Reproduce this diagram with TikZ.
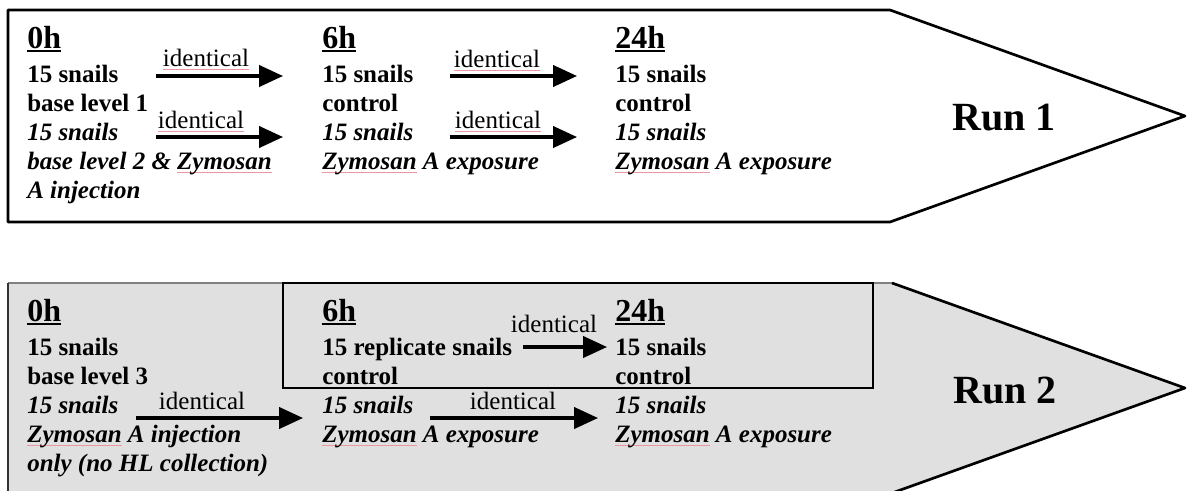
\documentclass[tikz,border=0pt]{standalone}
\usepackage{fontspec}
\setmainfont{Liberation Serif}
\usetikzlibrary{arrows.meta}
\definecolor{runfill}{HTML}{E0E0E0}
\definecolor{pinkline}{RGB}{236,150,160}
\definecolor{edgegray}{HTML}{808080}
\newcommand\pinkul[1]{\setbox0\hbox{#1}\rlap{\color{pinkline}\rule[-3pt]{\wd0}{1pt}}\box0\relax}
\newcommand\hdul[1]{\setbox0\hbox{#1}\rlap{\rule[-3.2pt]{\wd0}{1.6pt}}\box0\relax}
\tikzset{
  bl/.style={anchor=base west, inner sep=0pt, font=\fontsize{18.75pt}{22pt}\selectfont\bfseries},
  il/.style={anchor=base west, inner sep=0pt, font=\fontsize{18.75pt}{22pt}\selectfont\bfseries\itshape},
  hd/.style={anchor=base west, inner sep=0pt, font=\fontsize{24pt}{26pt}\selectfont\bfseries},
  lbl/.style={anchor=base, inner sep=0pt, font=\fontsize{18.75pt}{22pt}\selectfont},
  runlbl/.style={anchor=base, inner sep=0pt, font=\fontsize{30pt}{34pt}\selectfont\bfseries},
  arr/.style={line width=2.4pt, -{Triangle[length=18pt,width=16pt]}},
  outline/.style={line width=2pt, line join=round}
}
\begin{document}
\begin{tikzpicture}[x=0.75pt,y=-0.75pt]
\useasboundingbox (0,0) rectangle (1187,490);
\clip (0,0) rectangle (1187,490);
\fill[white] (0,0) rectangle (1187,490);

% ---------- Run 1 ----------
\draw[outline] (8,10) -- (890,10) -- (1185,116) -- (890,222) -- (8,222) -- cycle;
\node[runlbl] (run1) at (1004,130) {Run 1};

\node[hd] (r1h0) at (27,48) {\hdul{0h}};
\node[bl] (r1a1) at (27,82) {15 snails};
\node[bl] (r1a2) at (27,111) {base level 1};
\node[il] (r1a3) at (27,140) {15 snails};
\node[il] (r1a4) at (27,169) {base level 2 \& \pinkul{Zymosan}};
\node[il] (r1a5) at (27,198) {A injection};

\node[hd] (r1h6) at (322,48) {\hdul{6h}};
\node[bl] (r1b1) at (322,82) {15 snails};
\node[bl] (r1b2) at (322,111) {control};
\node[il] (r1b3) at (322,140) {15 snails};
\node[il] (r1b4) at (322,169) {\pinkul{Zymosan} A exposure};

\node[hd] (r1h24) at (615,48) {\hdul{24h}};
\node[bl] (r1c1) at (615,82) {15 snails};
\node[bl] (r1c2) at (615,111) {control};
\node[il] (r1c3) at (615,140) {15 snails};
\node[il] (r1c4) at (615,169) {\pinkul{Zymosan} A exposure};

\coordinate (a1s) at (156,76);  \coordinate (a1e) at (283,76);
\coordinate (a2s) at (156,137); \coordinate (a2e) at (283,137);
\coordinate (a3s) at (450,76);  \coordinate (a3e) at (577,76);
\coordinate (a4s) at (450,137); \coordinate (a4e) at (577,137);
\draw[arr] (a1s) -- (a1e);
\draw[arr] (a2s) -- (a2e);
\draw[arr] (a3s) -- (a3e);
\draw[arr] (a4s) -- (a4e);
\node[lbl] (l1) at (206,66) {\pinkul{identical}};
\node[lbl] (l2) at (201,128) {\pinkul{identical}};
\node[lbl] (l3) at (497,67) {\pinkul{identical}};
\node[lbl] (l4) at (498,128) {\pinkul{identical}};

% ---------- Run 2 ----------
\fill[runfill] (8,283) -- (892,283) -- (1185,388) -- (892,493) -- (8,493) -- cycle;
\draw[outline, edgegray] (8,283) -- (892,283);
\draw[outline] (892,283) -- (1185,388) -- (892,493);
\draw[outline, black!80] (8,283) -- (8,493);
\draw[line width=1.6pt] (283,283) rectangle (873,388);
\node[runlbl] (run2) at (1005,403) {Run 2};

\node[hd] (r2h0) at (27,321) {\hdul{0h}};
\node[bl] (r2a1) at (27,355) {15 snails};
\node[bl] (r2a2) at (27,384) {base level 3};
\node[il] (r2a3) at (27,413) {15 snails};
\node[il] (r2a4) at (27,442) {\pinkul{Zymosan} A injection};
\node[il] (r2a5) at (27,471) {only (no HL collection)};

\node[hd] (r2h6) at (322,321) {\hdul{6h}};
\node[bl] (r2b1) at (322,355) {15 replicate snails};
\node[bl] (r2b2) at (322,384) {control};
\node[il] (r2b3) at (322,413) {15 snails};
\node[il] (r2b4) at (322,442) {\pinkul{Zymosan} A exposure};

\node[hd] (r2h24) at (615,321) {\hdul{24h}};
\node[bl] (r2c1) at (615,355) {15 snails};
\node[bl] (r2c2) at (615,384) {control};
\node[il] (r2c3) at (615,413) {15 snails};
\node[il] (r2c4) at (615,442) {\pinkul{Zymosan} A exposure};

\coordinate (b1s) at (136,418); \coordinate (b1e) at (303,418);
\coordinate (b2s) at (430,418); \coordinate (b2e) at (598,418);
\coordinate (b3s) at (523,347); \coordinate (b3e) at (607,347);
\draw[arr] (b1s) -- (b1e);
\draw[arr] (b2s) -- (b2e);
\draw[arr] (b3s) -- (b3e);
\node[lbl] (m1) at (202,409) {identical};
\node[lbl] (m2) at (513,409) {identical};
\node[lbl] (m3) at (554,332) {identical};
\end{tikzpicture}
\end{document}
